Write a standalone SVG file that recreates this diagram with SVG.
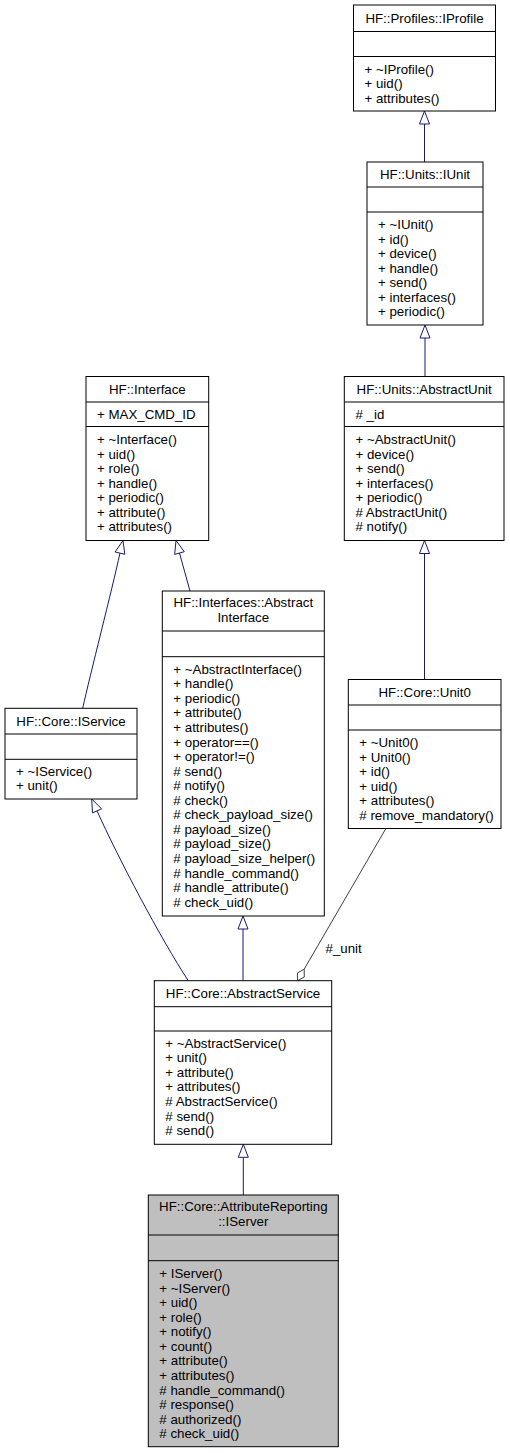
<svg xmlns="http://www.w3.org/2000/svg" width="510" height="1453" viewBox="0 0 510 1453">
<style>
.box{fill:#fff;stroke:#000;stroke-width:1}
.hl{fill:#bfbfbf}
.sep{stroke:#000;stroke-width:1}
text{font-family:"Liberation Sans",Arial,Helvetica,sans-serif;font-size:13.3px;fill:#000}
.c{text-anchor:middle}
.inh{stroke:#191970;stroke-width:1;fill:none}
.ah{fill:#fff;stroke:#191970;stroke-width:1}
.use{stroke:#404040;stroke-width:1;fill:none}
.dm{fill:#fff;stroke:#404040;stroke-width:1}
</style>
<rect width="510" height="1453" fill="#fff"/>

<g id="connectors">
  <!-- IUnit -> IProfile -->
  <line class="inh" x1="424.5" y1="162" x2="424.5" y2="124"/>
  <polygon class="ah" points="424.5,111 429.5,124 419.5,124"/>
  <!-- AbstractUnit -> IUnit -->
  <line class="inh" x1="425" y1="376.5" x2="425" y2="338"/>
  <polygon class="ah" points="425,325 430,338 420,338"/>
  <!-- Unit0 -> AbstractUnit -->
  <line class="inh" x1="424.5" y1="679.5" x2="424.5" y2="553.5"/>
  <polygon class="ah" points="424.5,540.5 429.5,553.5 419.5,553.5"/>
  <!-- IService -> Interface -->
  <path class="inh" d="M82.7,708.3 C90,675 112,590 119.96,553.14"/>
  <polygon class="ah" points="123,540.5 124.82,554.31 115.1,551.97"/>
  <!-- AbstractInterface -> Interface -->
  <line class="inh" x1="190" y1="591" x2="179.47" y2="553.03"/>
  <polygon class="ah" points="176,540.5 184.29,551.7 174.65,554.37"/>
  <!-- AbstractService -> IService -->
  <path class="inh" d="M188.3,980.7 C160.8,939 117.5,856.5 97.03,810.86"/>
  <polygon class="ah" points="91.7,799 101.59,808.81 92.47,812.91"/>
  <!-- AbstractService -> AbstractInterface -->
  <line class="inh" x1="243" y1="980.7" x2="243" y2="929"/>
  <polygon class="ah" points="243,916 248,929 238,929"/>
  <!-- IServer -> AbstractService -->
  <line class="inh" x1="243.3" y1="1195" x2="243.3" y2="1157.3"/>
  <polygon class="ah" points="243.3,1144.3 248.3,1157.3 238.3,1157.3"/>
  <!-- Unit0 -> AbstractService (#_unit) -->
  <line class="use" x1="386" y1="828.3" x2="304.18" y2="969.2"/>
  <polygon class="dm" points="297.5,980.7 304.3,976.96 304.18,969.2 297.38,972.94"/>
  <text x="325.5" y="953">#_unit</text>
</g>

<g id="IProfile">
  <rect class="box" x="353.5" y="5" width="142" height="106"/>
  <line class="sep" x1="353.5" y1="31.5" x2="495.5" y2="31.5"/>
  <line class="sep" x1="353.5" y1="56.5" x2="495.5" y2="56.5"/>
  <text class="c" x="424.5" y="22.5">HF::Profiles::IProfile</text>
  <text x="364.5" y="73.7">+ ~IProfile()</text>
  <text x="364.5" y="88.2">+ uid()</text>
  <text x="364.5" y="102.7">+ attributes()</text>
</g>

<g id="IUnit">
  <rect class="box" x="367" y="162" width="116" height="163"/>
  <line class="sep" x1="367" y1="187" x2="483" y2="187"/>
  <line class="sep" x1="367" y1="212" x2="483" y2="212"/>
  <text class="c" x="425" y="179.2">HF::Units::IUnit</text>
  <text x="378" y="229.2">+ ~IUnit()</text>
  <text x="378" y="243.7">+ id()</text>
  <text x="378" y="258.2">+ device()</text>
  <text x="378" y="272.7">+ handle()</text>
  <text x="378" y="287.2">+ send()</text>
  <text x="378" y="301.7">+ interfaces()</text>
  <text x="378" y="316.2">+ periodic()</text>
</g>

<g id="Interface">
  <rect class="box" x="86" y="376.5" width="122.7" height="164"/>
  <line class="sep" x1="86" y1="402" x2="208.7" y2="402"/>
  <line class="sep" x1="86" y1="426.5" x2="208.7" y2="426.5"/>
  <text class="c" x="147.35" y="393.9">HF::Interface</text>
  <text x="97" y="419">+ MAX_CMD_ID</text>
  <text x="97" y="444">+ ~Interface()</text>
  <text x="97" y="458.6">+ uid()</text>
  <text x="97" y="473.1">+ role()</text>
  <text x="97" y="487.7">+ handle()</text>
  <text x="97" y="502.2">+ periodic()</text>
  <text x="97" y="516.8">+ attribute()</text>
  <text x="97" y="531.4">+ attributes()</text>
</g>

<g id="AbstractUnit">
  <rect class="box" x="344.3" y="376.5" width="159.7" height="164"/>
  <line class="sep" x1="344.3" y1="402" x2="504" y2="402"/>
  <line class="sep" x1="344.3" y1="426.5" x2="504" y2="426.5"/>
  <text class="c" x="424.15" y="393.9">HF::Units::AbstractUnit</text>
  <text x="355.5" y="419"># _id</text>
  <text x="355.5" y="444">+ ~AbstractUnit()</text>
  <text x="355.5" y="458.6">+ device()</text>
  <text x="355.5" y="473.1">+ send()</text>
  <text x="355.5" y="487.7">+ interfaces()</text>
  <text x="355.5" y="502.2">+ periodic()</text>
  <text x="355.5" y="516.8"># AbstractUnit()</text>
  <text x="355.5" y="531.4"># notify()</text>
</g>

<g id="AbstractInterface">
  <rect class="box" x="162.3" y="591" width="162" height="325"/>
  <line class="sep" x1="162.3" y1="631" x2="324.3" y2="631"/>
  <line class="sep" x1="162.3" y1="656.7" x2="324.3" y2="656.7"/>
  <text class="c" x="243.3" y="607.4">HF::Interfaces::Abstract</text>
  <text class="c" x="243.3" y="622">Interface</text>
  <text x="173.3" y="673.7">+ ~AbstractInterface()</text>
  <text x="173.3" y="688.3">+ handle()</text>
  <text x="173.3" y="702.8">+ periodic()</text>
  <text x="173.3" y="717.4">+ attribute()</text>
  <text x="173.3" y="731.9">+ attributes()</text>
  <text x="173.3" y="746.5">+ operator==()</text>
  <text x="173.3" y="761.1">+ operator!=()</text>
  <text x="173.3" y="775.6"># send()</text>
  <text x="173.3" y="790.2"># notify()</text>
  <text x="173.3" y="804.7"># check()</text>
  <text x="173.3" y="819.3"># check_payload_size()</text>
  <text x="173.3" y="833.9"># payload_size()</text>
  <text x="173.3" y="848.4"># payload_size()</text>
  <text x="173.3" y="863"># payload_size_helper()</text>
  <text x="173.3" y="877.5"># handle_command()</text>
  <text x="173.3" y="892.1"># handle_attribute()</text>
  <text x="173.3" y="906.7"># check_uid()</text>
</g>

<g id="IService">
  <rect class="box" x="5" y="708.3" width="132" height="90.7"/>
  <line class="sep" x1="5" y1="734" x2="137" y2="734"/>
  <line class="sep" x1="5" y1="759.3" x2="137" y2="759.3"/>
  <text class="c" x="71" y="725.7">HF::Core::IService</text>
  <text x="16" y="775.7">+ ~IService()</text>
  <text x="16" y="790.3">+ unit()</text>
</g>

<g id="Unit0">
  <rect class="box" x="348.3" y="679.5" width="152.7" height="149"/>
  <line class="sep" x1="348.3" y1="705" x2="501" y2="705"/>
  <line class="sep" x1="348.3" y1="730" x2="501" y2="730"/>
  <text class="c" x="424.65" y="696.7">HF::Core::Unit0</text>
  <text x="359.3" y="747.2">+ ~Unit0()</text>
  <text x="359.3" y="761.8">+ Unit0()</text>
  <text x="359.3" y="776.3">+ id()</text>
  <text x="359.3" y="790.9">+ uid()</text>
  <text x="359.3" y="805.4">+ attributes()</text>
  <text x="359.3" y="820"># remove_mandatory()</text>
</g>

<g id="AbstractService">
  <rect class="box" x="154.3" y="980.7" width="177.4" height="163.6"/>
  <line class="sep" x1="154.3" y1="1006.7" x2="331.7" y2="1006.7"/>
  <line class="sep" x1="154.3" y1="1031" x2="331.7" y2="1031"/>
  <text class="c" x="243" y="998.4">HF::Core::AbstractService</text>
  <text x="165.3" y="1047.7">+ ~AbstractService()</text>
  <text x="165.3" y="1062.3">+ unit()</text>
  <text x="165.3" y="1076.8">+ attribute()</text>
  <text x="165.3" y="1091.4">+ attributes()</text>
  <text x="165.3" y="1105.9"># AbstractService()</text>
  <text x="165.3" y="1120.5"># send()</text>
  <text x="165.3" y="1135.1"># send()</text>
</g>

<g id="IServer">
  <rect class="box hl" x="148.3" y="1195" width="190" height="251.7"/>
  <line class="sep" x1="148.3" y1="1235" x2="338.3" y2="1235"/>
  <line class="sep" x1="148.3" y1="1260.7" x2="338.3" y2="1260.7"/>
  <text class="c" x="243.3" y="1211.4">HF::Core::AttributeReporting</text>
  <text class="c" x="243.3" y="1226.4">::IServer</text>
  <text x="159.3" y="1278">+ IServer()</text>
  <text x="159.3" y="1292.6">+ ~IServer()</text>
  <text x="159.3" y="1307.1">+ uid()</text>
  <text x="159.3" y="1321.7">+ role()</text>
  <text x="159.3" y="1336.2">+ notify()</text>
  <text x="159.3" y="1350.8">+ count()</text>
  <text x="159.3" y="1365.4">+ attribute()</text>
  <text x="159.3" y="1379.9">+ attributes()</text>
  <text x="159.3" y="1394.5"># handle_command()</text>
  <text x="159.3" y="1409"># response()</text>
  <text x="159.3" y="1423.6"># authorized()</text>
  <text x="159.3" y="1438.2"># check_uid()</text>
</g>
</svg>
